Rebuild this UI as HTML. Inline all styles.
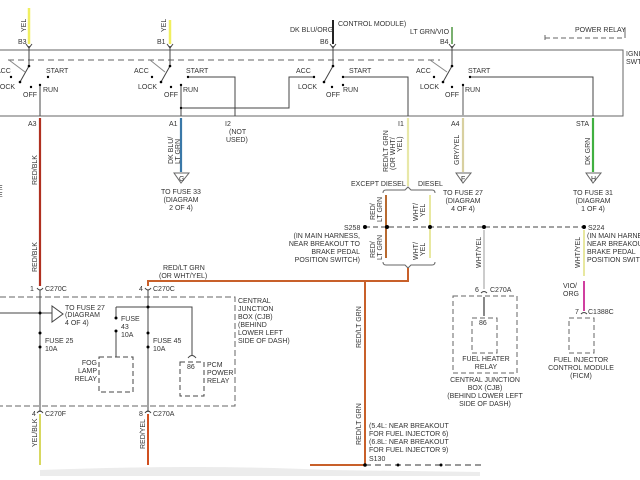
<!DOCTYPE html>
<html><head><meta charset="utf-8"><style>
html,body{margin:0;padding:0;background:#fff}
svg{display:block}
text{font-family:"Liberation Sans",sans-serif;font-size:7px;fill:#333}
</style></head><body>
<svg width="640" height="480" viewBox="0 0 640 480" xmlns="http://www.w3.org/2000/svg">
<rect width="640" height="480" fill="#fff"/>
<path d="M40 470 Q200 464 330 470 L480 472 L480 476 L40 476 Z" fill="#ececec"/>
<g stroke="#666" stroke-width="1" fill="none">
<path d="M0 50 H623 V116 H0"/>
<path d="M8 60 H440" stroke-dasharray="6,4"/>
<path d="M545 40 V32 M545 38 H625" stroke-dasharray="5,3"/>
<path d="M625 28 V38"/>
</g>
<text x="626" y="56">IGNI</text><text x="626" y="64">SWT</text>
<text x="575" y="32" font-size="6">POWER RELAY</text>
<g stroke-width="2.5" fill="none">
<path d="M29 8 V44" stroke="#f0ef60"/>
<path d="M170 20 V44" stroke="#f0ef60"/>
<path d="M333 20 V44" stroke="#222" stroke-width="2"/>
<path d="M452 27 V44" stroke="#7ab070" stroke-width="2"/>
</g>
<text x="22" y="32" transform="rotate(-90 24 30)">YEL</text>
<text x="162" y="32" transform="rotate(-90 164 30)">YEL</text>
<text x="18" y="44">B3</text><text x="157" y="44">B1</text>
<text x="290" y="32">DK BLU/ORG</text><text x="338" y="26" font-size="6">CONTROL MODULE)</text>
<text x="320" y="44">B6</text>
<text x="410" y="34">LT GRN/VIO</text><text x="440" y="44">B4</text>
<g stroke="#444" stroke-width="1" fill="none">
<path d="M29 46 V66 L20 82 M26 44 L29 48 L32 44"/>
<path d="M170 46 V66 L161 82 M167 44 L170 48 L173 44"/>
<path d="M333 46 V66 L324 82 M330 44 L333 48 L336 44"/>
<path d="M452 46 V66 L443 82 M449 44 L452 48 L455 44"/>
<path d="M40 86 V116"/><path d="M181 86 V108 H289 V77 H314"/>
<path d="M188 77 H235 V116"/>
<path d="M343 77 H408 V116"/>
<path d="M470 77 H593 V116"/>
<path d="M9 60 L25 72 M150 60 L165 72 M430 60 L447 72" stroke="#888"/>
<path d="M181 86 V116"/>
</g>
<path d="M463 86 V116" stroke="#aaa" stroke-width="2"/>
<g fill="#000">
<circle cx="29" cy="66" r="1.3"/><circle cx="20" cy="82" r="1.3"/><circle cx="11" cy="77" r="1.2"/><circle cx="31" cy="87" r="1.2"/><circle cx="48" cy="77" r="1.2"/><circle cx="40" cy="85" r="1.2"/>
<circle cx="170" cy="66" r="1.3"/><circle cx="161" cy="82" r="1.3"/><circle cx="152" cy="77" r="1.2"/><circle cx="171" cy="87" r="1.2"/><circle cx="188" cy="77" r="1.2"/><circle cx="181" cy="85" r="1.2"/><circle cx="181" cy="108" r="1.2"/>
<circle cx="333" cy="66" r="1.3"/><circle cx="324" cy="82" r="1.3"/><circle cx="332" cy="87" r="1.2"/><circle cx="343" cy="77" r="1.2"/><circle cx="343" cy="85" r="1.2"/><circle cx="314" cy="77" r="1.2"/>
<circle cx="452" cy="66" r="1.3"/><circle cx="443" cy="82" r="1.3"/><circle cx="434" cy="77" r="1.2"/><circle cx="452" cy="87" r="1.2"/><circle cx="470" cy="77" r="1.2"/><circle cx="463" cy="85" r="1.2"/>
</g>
<text x="-4" y="73">ACC</text><text x="46" y="73">START</text><text x="-4" y="89">LOCK</text><text x="23" y="97">OFF</text><text x="43" y="92">RUN</text>
<text x="134" y="73">ACC</text><text x="186" y="73">START</text><text x="138" y="89">LOCK</text><text x="164" y="97">OFF</text><text x="183" y="92">RUN</text>
<text x="296" y="73">ACC</text><text x="349" y="73">START</text><text x="298" y="89">LOCK</text><text x="326" y="97">OFF</text><text x="343" y="92">RUN</text>
<text x="416" y="73">ACC</text><text x="468" y="73">START</text><text x="420" y="89">LOCK</text><text x="445" y="97">OFF</text><text x="465" y="92">RUN</text>
<text x="28" y="126">A3</text><text x="169" y="126">A1</text><text x="225" y="126">I2</text><text x="229" y="134">(NOT</text><text x="226" y="142">USED)</text>
<text x="398" y="126">I1</text><text x="451" y="126">A4</text><text x="576" y="126">STA</text>
<g stroke-width="2.2" fill="none">
<path d="M40 118 V286" stroke="#b03020"/>
<path d="M181 118 V172" stroke="#3a78a8"/>
<path d="M408 118 V186" stroke="#e8e8a8"/>
<path d="M463 118 V172" stroke="#d8d0a0"/>
<path d="M593 118 V172" stroke="#40b040"/>
</g>
<g stroke="#666" fill="#fff" stroke-width="1">
<path d="M174 173 H189 L181 183 Z"/><path d="M456 173 H471 L463 183 Z"/><path d="M586 173 H601 L593 183 Z"/>
</g>
<text x="179" y="181" font-size="5">G</text><text x="461" y="181" font-size="5">F</text><text x="591" y="181" font-size="5">H</text>
<g text-anchor="middle">
<text x="181" y="194">TO FUSE 33</text><text x="181" y="202">(DIAGRAM</text><text x="181" y="210">2 OF 4)</text>
<text x="463" y="195">TO FUSE 27</text><text x="463" y="203">(DIAGRAM</text><text x="463" y="211">4 OF 4)</text>
<text x="593" y="195">TO FUSE 31</text><text x="593" y="203">(DIAGRAM</text><text x="593" y="211">1 OF 4)</text>
</g>
<g font-size="6.5">
<text transform="translate(37 185) rotate(-90)">RED/BLK</text>
<text transform="translate(173 164) rotate(-90)">DK BLU/</text><text transform="translate(180 164) rotate(-90)">LT GRN</text>
<text transform="translate(388 172) rotate(-90)">RED/LT GRN</text><text transform="translate(395 170) rotate(-90)">(OR WHT/</text><text transform="translate(402 152) rotate(-90)">YEL)</text>
<text transform="translate(459 165) rotate(-90)">GRY/YEL</text>
<text transform="translate(590 165) rotate(-90)">DK GRN</text>
<text transform="translate(37 272) rotate(-90)">RED/BLK</text>
</g>
<text x="-2" y="190">E</text><text x="-2" y="197">E</text>
<text x="351" y="186">EXCEPT DIESEL</text><text x="418" y="186">DIESEL</text>
<path d="M383 193 Q383 190 386 190 H405 L408 187 L411 190 H432 Q435 190 435 193" stroke="#666" fill="none"/>
<path d="M383 262 Q383 265 386 265 H405 L408 268 L411 265 H432 Q435 265 435 262" stroke="#666" fill="none"/>
<g stroke-width="2" fill="none">
<path d="M386 195 V258" stroke="#b86a30"/>
<path d="M430 195 V258" stroke="#e8e8a0"/>
</g>
<g font-size="6">
<text transform="translate(375 220) rotate(-90)">RED/</text><text transform="translate(382 222) rotate(-90)">LT GRN</text>
<text transform="translate(418 221) rotate(-90)">WHT/</text><text transform="translate(425 217) rotate(-90)">YEL</text>
<text transform="translate(375 258) rotate(-90)">RED/</text><text transform="translate(382 260) rotate(-90)">LT GRN</text>
<text transform="translate(418 260) rotate(-90)">WHT/</text><text transform="translate(425 256) rotate(-90)">YEL</text>
</g>
<path d="M365 227 H584" stroke="#444" stroke-dasharray="5,3" fill="none"/>
<g fill="#000"><circle cx="365" cy="227" r="2"/><circle cx="387" cy="227" r="2"/><circle cx="430" cy="227" r="2"/><circle cx="484" cy="227" r="2"/><circle cx="584" cy="227" r="2"/></g>
<text x="344" y="230">S258</text>
<g text-anchor="end" font-size="6.5"><text x="360" y="238">(IN MAIN HARNESS,</text><text x="360" y="246">NEAR BREAKOUT TO</text><text x="360" y="254">BRAKE PEDAL</text><text x="360" y="262">POSITION SWITCH)</text></g>
<text x="588" y="230">S224</text>
<g font-size="6.5"><text x="587" y="238">(IN MAIN HARNESS</text><text x="587" y="246">NEAR BREAKOUT</text><text x="587" y="254">BRAKE PEDAL</text><text x="587" y="262">POSITION SWITCH</text></g>
<g stroke="#c8602a" stroke-width="2" fill="none">
<path d="M408 268 V281 H148 V286"/>
<path d="M365 281 V465 H310"/>
</g>
<text x="163" y="270">RED/LT GRN</text><text x="159" y="278">(OR WHT/YEL)</text>
<g font-size="6.5"><text transform="translate(361 348) rotate(-90)">RED/LT GRN</text><text transform="translate(361 445) rotate(-90)">RED/LT GRN</text></g>
<g font-size="6.5"><text x="369" y="428">(5.4L: NEAR BREAKOUT</text><text x="369" y="436">FOR FUEL INJECTOR 6)</text><text x="369" y="444">(6.8L: NEAR BREAKOUT</text><text x="369" y="452">FOR FUEL INJECTOR 9)</text><text x="369" y="461">S130</text></g>
<path d="M365 465 H485" stroke="#333" stroke-dasharray="6,4" fill="none"/>
<g fill="#000"><circle cx="365" cy="465" r="1.8"/><circle cx="398" cy="465" r="1.5"/><circle cx="441" cy="465" r="1.5"/></g>
<path d="M0 297 H235 V406 H0" stroke="#666" stroke-dasharray="6,3" fill="none"/>
<text x="30" y="291">1</text><text x="45" y="291">C270C</text><text x="139" y="291">4</text><text x="153" y="291">C270C</text>
<g stroke="#444" fill="none">
<path d="M40 290 V412"/><path d="M148 290 V412"/>
<path d="M0 313 H40"/><path d="M40 313 H52"/><path d="M52 306 V322 L63 314 Z" fill="#fff"/>
<path d="M116 307 H192 V355"/><path d="M116 307 V318 M116 332 V357"/>
<path d="M99 357 H133 V392 H99 Z M180 362 H204 V396 H180 Z" stroke-dasharray="5,3"/>
<path d="M37 288 Q40 292 43 288 M145 288 Q148 292 151 288 M37 413 Q40 409 43 413 M145 413 Q148 409 151 413"/>
<path d="M188 358 Q192 353 196 358"/>
</g>
<g fill="#000"><circle cx="40" cy="313" r="1.5"/><circle cx="148" cy="307" r="1.5"/><circle cx="40" cy="333" r="1.5"/><circle cx="40" cy="347" r="1.5"/><circle cx="148" cy="333" r="1.5"/><circle cx="148" cy="347" r="1.5"/><circle cx="116" cy="318" r="1.5"/><circle cx="116" cy="331" r="1.5"/></g>
<text x="65" y="310">TO FUSE 27</text><text x="65" y="317">(DIAGRAM</text><text x="65" y="325">4 OF 4)</text>
<text x="45" y="343">FUSE 25</text><text x="45" y="351">10A</text>
<text x="153" y="343">FUSE 45</text><text x="153" y="351">10A</text>
<text x="121" y="321">FUSE</text><text x="121" y="329">43</text><text x="121" y="337">10A</text>
<g text-anchor="end"><text x="97" y="365">FOG</text><text x="97" y="373">LAMP</text><text x="97" y="381">RELAY</text></g>
<text x="187" y="369" font-size="6">86</text>
<text x="207" y="367">PCM</text><text x="207" y="375">POWER</text><text x="207" y="383">RELAY</text>
<text x="238" y="303">CENTRAL</text><text x="238" y="311">JUNCTION</text><text x="238" y="319">BOX (CJB)</text><text x="238" y="327">(BEHIND</text><text x="238" y="335">LOWER LEFT</text><text x="238" y="343">SIDE OF DASH)</text>
<text x="32" y="416">4</text><text x="45" y="416">C270F</text><text x="139" y="416">8</text><text x="153" y="416">C270A</text>
<path d="M40 414 V465" stroke="#d8d860" stroke-width="2"/>
<path d="M148 414 V465" stroke="#d05020" stroke-width="2"/>
<g font-size="6.5"><text transform="translate(37 447) rotate(-90)">YEL/BLK</text><text transform="translate(145 449) rotate(-90)">RED/YEL</text></g>
<path d="M484 230 V289" stroke="#bbb" stroke-width="1.5"/>
<text transform="translate(481 268) rotate(-90)" font-size="6.5">WHT/YEL</text>
<text x="475" y="292">6</text><text x="490" y="292">C270A</text>
<path d="M481 293 Q484 290 487 293" stroke="#444" fill="none"/>
<path d="M484 297 V316" stroke="#888" stroke-width="2"/>
<path d="M453 296 H517 V373 H453 Z M472 318 H497 V353 H472 Z" stroke="#666" stroke-dasharray="5,3" fill="none"/>
<text x="479" y="325" font-size="6">86</text>
<g text-anchor="middle"><text x="486" y="361">FUEL HEATER</text><text x="486" y="369">RELAY</text><text x="485" y="382">CENTRAL JUNCTION</text><text x="485" y="390">BOX (CJB)</text><text x="485" y="398">(BEHIND LOWER LEFT</text><text x="485" y="406">SIDE OF DASH)</text></g>
<path d="M584 230 V276" stroke="#e8e8a0" stroke-width="2"/>
<path d="M584 281 V311" stroke="#d040a0" stroke-width="2"/>
<text transform="translate(580 268) rotate(-90)" font-size="6.5">WHT/YEL</text>
<text x="563" y="288">VIO/</text><text x="563" y="296">ORG</text>
<text x="575" y="314">7</text><text x="588" y="314">C1388C</text>
<path d="M581 314 Q584 311 587 314" stroke="#444" fill="none"/>
<path d="M569 318 H594 V353 H569 Z" stroke="#666" stroke-dasharray="5,3" fill="none"/>
<g text-anchor="middle"><text x="581" y="362">FUEL INJECTOR</text><text x="581" y="370">CONTROL MODULE</text><text x="581" y="378">(FICM)</text></g>
</svg>
</body></html>
